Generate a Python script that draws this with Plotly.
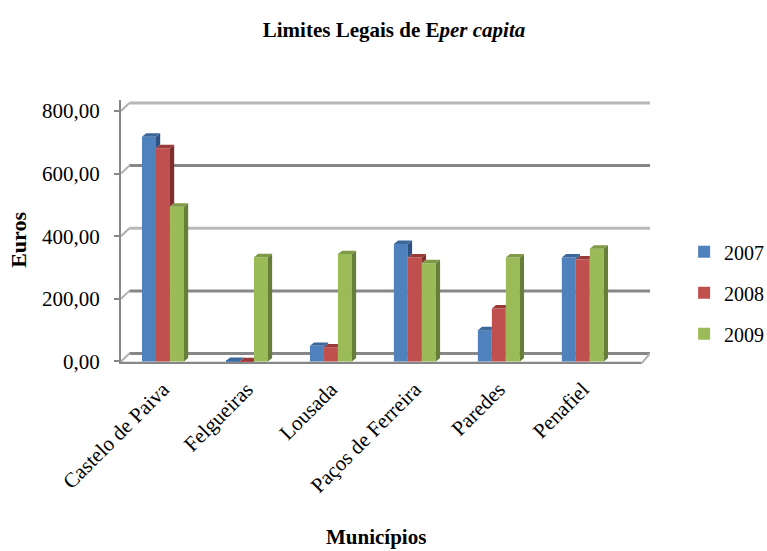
import plotly.graph_objects as go

municipios = ["Castelo de Paiva", "Felgueiras", "Lousada", "Paços de Ferreira", "Paredes", "Penafiel"]
anos = ["2007", "2008", "2009"]
v2007 = [718, 2, 50, 375, 100, 332]
v2008 = [681, 1, 45, 332, 169, 326]
v2009 = [494, 333, 343, 314, 332, 360]
y_ticks = [0, 200, 400, 600, 800]
y_labels = ["0,00", "200,00", "400,00", "600,00", "800,00"]

cores = ["#4F81BD", "#C0504D", "#9BBB59"]
lados = ["#2F5283", "#7E2F2D", "#677D3A"]
topos = ["#3C679B", "#9A3A38", "#7E9A46"]
serif = "Liberation Serif, Times New Roman, serif"

series = [v2007, v2008, v2009]
largura = 1 / 6  # bargap 0.5, 3 bars
dx = 0.05        # 3d depth in category units
dy = 11          # 3d depth in value units
dv = 25.5        # back wall offset

fig = go.Figure()
for k, (ano, vals) in enumerate(zip(anos, series)):
    fig.add_trace(go.Bar(x=list(range(len(municipios))), y=vals, name=ano,
                         marker=dict(color=cores[k], line=dict(width=0)),
                         legendgroup=ano))

shapes = []
# back wall gridlines
for v in y_ticks:
    cor = "#B8B8B8" if v in (400, 800) else "#878787"
    shapes.append(dict(type="line", xref="x", yref="y", x0=-0.4, x1=5.8, y0=v + dv, y1=v + dv,
                       line=dict(color=cor, width=3), layer="below"))
    shapes.append(dict(type="line", xref="x", yref="y", x0=-0.5, x1=-0.4, y0=v, y1=v + dv,
                       line=dict(color="#B0B0B0", width=2), layer="below"))
# floor front edge
shapes.append(dict(type="line", xref="x", yref="y", x0=-0.5, x1=5.7, y0=-6, y1=-6,
                   line=dict(color="#878787", width=3), layer="below"))
shapes.append(dict(type="line", xref="x", yref="y", x0=5.7, x1=5.8, y0=-6, y1=dv,
                   line=dict(color="#B0B0B0", width=2), layer="below"))

# 3d faces of the bars
for i in range(len(municipios)):
    for k, vals in enumerate(series):
        v = vals[i]
        xc = i + (k - 1) * largura
        xl, xr = xc - largura / 2, xc + largura / 2
        prox = series[k + 1][i] if k < 2 else None
        if prox is None or v > prox:
            base = 0 if prox is None else prox
            shapes.append(dict(type="path", xref="x", yref="y",
                               path=f"M{xr},{base} L{xr},{v} L{xr+dx},{v+dy} L{xr+dx},{base+dy} Z",
                               fillcolor=lados[k], line=dict(width=0), layer="above"))
            xtop = xr + dx
        else:
            xtop = xr
        shapes.append(dict(type="path", xref="x", yref="y",
                           path=f"M{xl},{v} L{xl+dx},{v+dy} L{xtop},{v+dy} L{xr},{v} Z",
                           fillcolor=topos[k], line=dict(width=0), layer="above"))

fig.update_layout(
    width=767, height=551,
    margin=dict(l=121, r=117, t=100, b=186.5, autoexpand=False),
    paper_bgcolor="white", plot_bgcolor="white",
    barmode="group", bargap=0.5, bargroupgap=0,
    shapes=shapes,
    font=dict(family=serif, color="black"),
    title=dict(text="<b>Limites Legais de E<i>per capita</i></b>", x=394 / 767, xref="container",
               xanchor="center", y=1 - 30 / 551, yref="container", yanchor="middle",
               font=dict(family=serif, size=21, color="black")),
    legend=dict(x=1.0645, xanchor="left", y=0.27, yanchor="middle", tracegroupgap=12,
                font=dict(family=serif, size=20, color="black")),
    showlegend=True,
)
fig.update_xaxes(range=[-0.5, 5.8], tickvals=list(range(len(municipios))), ticktext=municipios,
                 tickangle=-45, tickfont=dict(family=serif, size=21, color="black"), showgrid=False,
                 zeroline=False, showline=False, ticks="", ticklabelstandoff=8, automargin=False)
fig.update_yaxes(range=[-8, 835], tickvals=y_ticks, ticktext=y_labels, showgrid=False,
                 zeroline=False, showline=True, linecolor="#878787", linewidth=2,
                 ticks="outside", ticklen=5, tickcolor="#878787", tickwidth=2, automargin=False,
                 ticklabelstandoff=10, tickfont=dict(family=serif, size=21, color="black"))

fig.add_annotation(text="<b>Euros</b>", xref="paper", yref="paper", x=-0.193, y=0.47,
                   xanchor="center", yanchor="middle",
                   textangle=-90, showarrow=False, font=dict(family=serif, size=22))
fig.add_annotation(text="<b>Municípios</b>", xref="paper", yref="paper", x=0.482, y=-0.656,
                   xanchor="center", yanchor="middle",
                   showarrow=False, font=dict(family=serif, size=21))

# drop the default 8px body margin so the figure fills the window exactly
fig.write_html("out.html", config={"displayModeBar": False},
               post_script="document.body.style.margin='0';document.body.style.overflow='hidden';")
